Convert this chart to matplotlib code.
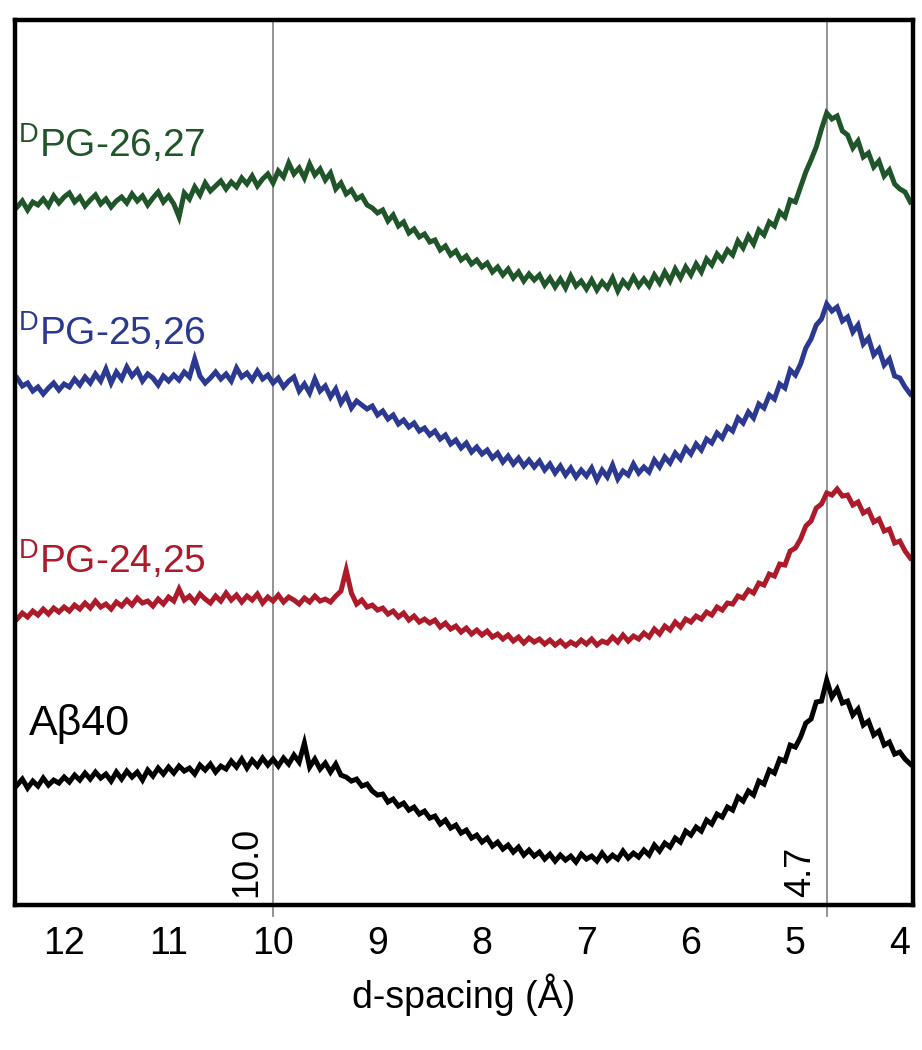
import numpy as np
import matplotlib
matplotlib.use("Agg")
import matplotlib.pyplot as plt

plt.rcParams['font.family'] = ['Liberation Sans', 'DejaVu Sans']
plt.rcParams['mathtext.fontset'] = 'custom'
plt.rcParams['mathtext.rm'] = 'Liberation Sans'

# d-spacing sampling (A), 12.45 down to 3.90 in 0.05 steps
d_spacing = np.round(np.arange(12.45, 3.899, -0.05), 2)

# intensities (a.u., already offset per trace)
green_2627 = [
    698, 704, 695, 703, 700, 706, 699, 709, 702, 708,
    712, 703, 708, 699, 705, 710, 701, 706, 698, 704,
    708, 702, 711, 704, 709, 700, 707, 713, 703, 709,
    701, 688, 712, 706, 718, 710, 722, 714, 719, 724,
    716, 723, 718, 727, 721, 729, 719, 726, 731, 722,
    734, 728, 742, 731, 737, 727, 741, 730, 736, 725,
    732, 716, 722, 711, 715, 706, 709, 700, 697, 692,
    695, 684, 690, 679, 683, 672, 676, 668, 671, 663,
    665, 655, 659, 650, 654, 645, 649, 641, 645, 638,
    642, 633, 638, 630, 636, 627, 633, 624, 631, 625,
    630, 620, 627, 618, 626, 617, 629, 619, 624, 616,
    625, 615, 623, 617, 627, 614, 624, 618, 628, 619,
    626, 619, 630, 622, 633, 624, 636, 627, 638, 630,
    641, 633, 646, 640, 651, 645, 655, 650, 664, 657,
    669, 661, 675, 670, 683, 679, 693, 688, 705, 703,
    718, 733, 745, 758, 776, 792, 786, 789, 774, 770,
    757, 764, 748, 752, 738, 744, 729, 735, 721, 716,
    713, 703,
]
blue_2526 = [
    527, 519, 522, 514, 518, 511, 517, 522, 515, 521,
    518, 526, 520, 528, 522, 531, 524, 536, 522, 533,
    526, 538, 529, 535, 524, 531, 527, 520, 529, 524,
    530, 525, 533, 528, 546, 529, 522, 527, 533, 526,
    531, 524, 537, 528, 532, 525, 534, 526, 530, 522,
    527, 518, 524, 528, 514, 521, 512, 526, 514, 519,
    508, 516, 502, 510, 497, 504, 500, 496, 499, 490,
    494, 486, 490, 481, 485, 478, 482, 474, 477, 470,
    474, 466, 470, 461, 465, 457, 462, 453, 458, 451,
    455, 447, 452, 443, 449, 441, 447, 439, 445, 438,
    444, 435, 441, 432, 439, 430, 437, 428, 435, 429,
    437, 425, 435, 428, 440, 426, 434, 430, 441, 432,
    438, 433, 445, 438, 448, 442, 452, 446, 457, 451,
    461, 455, 466, 462, 472, 467, 478, 474, 487, 482,
    493, 487, 501, 497, 510, 506, 521, 517, 535, 530,
    541, 557, 566, 580, 586, 601, 594, 598, 584, 588,
    573, 580, 561, 567, 550, 556, 540, 546, 529, 527,
    518, 511,
]
red_2425 = [
    286, 292, 288, 294, 290, 296, 291, 297, 293, 298,
    294, 300, 296, 302, 297, 304, 298, 301, 296, 303,
    299, 305, 300, 307, 302, 304, 299, 306, 301, 308,
    304, 316, 305, 309, 303, 311, 306, 302, 309, 304,
    312, 305, 310, 303, 309, 305, 311, 302, 308, 304,
    310, 303, 308, 305, 301, 307, 303, 309, 304, 306,
    303, 309, 314, 335, 312, 301, 305, 298, 300, 295,
    297, 291, 294, 288, 292, 285, 289, 283, 286, 282,
    285, 278, 282, 276, 279, 273, 277, 271, 275, 270,
    274, 268, 271, 266, 270, 264, 268, 262, 267, 263,
    266, 261, 265, 260, 264, 259, 263, 260, 265, 261,
    266, 260, 264, 262, 268, 263, 270, 264, 269, 266,
    272, 268, 276, 271, 279, 275, 283, 278, 286, 283,
    289, 286, 293, 290, 298, 295, 302, 301, 309, 307,
    315, 312, 322, 320, 331, 329, 341, 340, 354, 357,
    366, 379, 384, 397, 401, 412, 410, 416, 409, 410,
    400, 403, 392, 395, 383, 386, 374, 376, 362, 364,
    354, 347,
]
black_ab40 = [
    120, 126, 117, 124, 119, 127, 120, 125, 122, 128,
    123, 130, 125, 132, 126, 133, 127, 131, 124, 133,
    126, 134, 128, 133, 125, 135, 129, 137, 131, 138,
    132, 139, 134, 137, 131, 140, 135, 141, 133, 139,
    136, 144, 138, 146, 137, 145, 139, 147, 140, 146,
    139, 147, 141, 150, 143, 162, 138, 146, 136, 142,
    133, 141, 130, 128, 124, 126, 119, 121, 114, 110,
    111, 103, 106, 99, 102, 95, 98, 91, 94, 87,
    89, 81, 85, 77, 80, 72, 75, 67, 70, 63,
    67, 59, 63, 56, 60, 53, 58, 50, 55, 49,
    53, 46, 51, 44, 50, 45, 49, 43, 51, 46,
    49, 44, 52, 45, 50, 46, 54, 47, 52, 48,
    55, 50, 60, 54, 62, 58, 67, 63, 74, 70,
    78, 74, 85, 81, 91, 88, 98, 95, 108, 104,
    114, 110, 124, 121, 135, 132, 146, 144, 160, 158,
    168, 182, 186, 203, 204, 225, 208, 216, 202, 204,
    190, 196, 180, 184, 170, 174, 160, 163, 151, 153,
    146, 141,
]

traces = [green_2627, blue_2526, red_2425, black_ab40]
trace_names = [r'$^{\mathrm{D}}$PG-26,27', r'$^{\mathrm{D}}$PG-25,26',
               r'$^{\mathrm{D}}$PG-24,25', 'Aβ40']
trace_colors = ['#1f5528', '#2b3990', '#ad1a2a', '#000000']
label_pos = [(12.44, 748), (12.44, 560), (12.44, 332), (12.34, 170)]
label_size = [28, 28, 28, 31]

ref_lines = [10.0, 4.7]
ref_labels = ['10.0', '4.7']
ticks = [12, 11, 10, 9, 8, 7, 6, 5, 4]

fig = plt.figure(figsize=(9.22, 10.5), dpi=100)
ax = fig.add_axes([0.0163, 0.138, 0.9737, 0.843])

for vals, name, col, pos, fs in zip(traces, trace_names, trace_colors,
                                    label_pos, label_size):
    ax.plot(d_spacing, vals, color=col, lw=3.6, solid_joinstyle='miter')
    ax.text(pos[0], pos[1], name, color=col, fontsize=fs, ha='left', va='baseline')

for xl, lab in zip(ref_lines, ref_labels):
    ax.axvline(xl, ymin=-0.012, ymax=1, color='#8a8a8a', lw=1.3, zorder=0,
               clip_on=False)
    ax.annotate(lab, xy=(xl, 0), xycoords=('data', 'axes fraction'),
                xytext=(-6, 6), textcoords='offset points',
                rotation=90, ha='right', va='bottom', fontsize=26)

ax.set_xlim(12.47, 3.876)
ax.set_ylim(0, 885)
ax.set_xticks(ticks)
ax.set_xticklabels([str(t) for t in ticks])
ax.set_yticks([])
ax.tick_params(axis='x', length=0, pad=15, labelsize=27)
for sp in ax.spines.values():
    sp.set_linewidth(3.2)
ax.set_xlabel('d-spacing (Å)', fontsize=27, labelpad=8)

fig.savefig('out.png', dpi=100)
